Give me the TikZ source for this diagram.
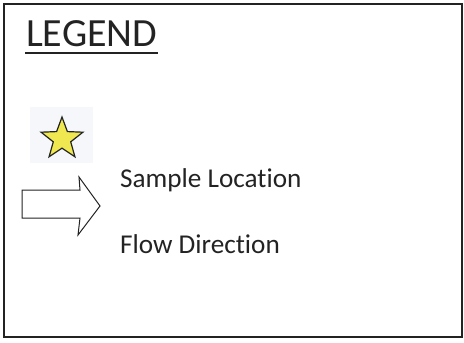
\documentclass[tikz,border=0pt]{standalone}
\usepackage{fontspec}
\setmainfont[Ligatures={NoCommon,NoRare}]{Carlito}
\usetikzlibrary{shapes.geometric}
\definecolor{starfill}{RGB}{240,232,80}
\definecolor{starback}{RGB}{245,247,250}
\definecolor{inkcolor}{RGB}{35,35,35}

\begin{document}
\begin{tikzpicture}[
  x=1pt, y=-1pt,
  frame/.style={draw=inkcolor, line width=1.3pt},
  title/.style={font=\fontsize{40}{42}\selectfont, text=inkcolor, inner sep=0pt, anchor=base west},
  entry/.style={font=\fontsize{27.2}{30}\selectfont, text=inkcolor, inner sep=0pt, anchor=base west},
  symbolline/.style={draw=inkcolor, line width=1pt, line join=miter},
]
\useasboundingbox (0,0) rectangle (464,343);

% ---------- frame ----------
\draw[frame] (4,4) rectangle (462,337);

% ---------- title ----------
\node[title] (legend) at (26,46) {LEGEND};
\draw[inkcolor, line width=2pt] (25,52.5) -- (158,52.5);

% ---------- sample location symbol ----------
\fill[starback] (30,107) rectangle (93,163);
\node[star, star points=5, star point ratio=2.4, minimum size=44pt, inner sep=0pt,
      fill=starfill, draw=inkcolor, line width=1.2pt] (sample) at (62,139) {};

% ---------- flow direction symbol ----------
\draw[symbolline, fill=white]
  (22,190) -- (80,190) -- (79,177) -- (100,206) -- (78,235) -- (80,218) -- (22,218) -- cycle;

% ---------- entries ----------
\node[entry] (samplelbl) at (120,187) {Sample Location};
\node[entry] (flowlbl) at (120,253) {Flow Direction};

\end{tikzpicture}
\end{document}
